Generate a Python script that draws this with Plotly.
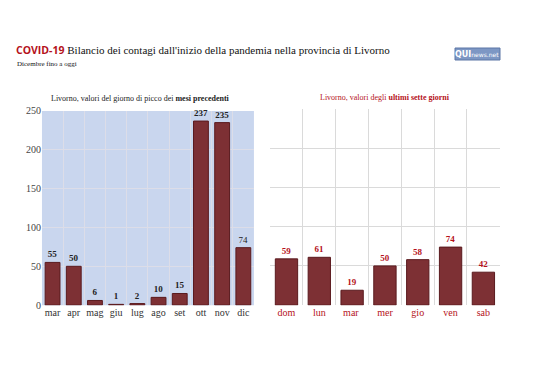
import plotly.graph_objects as go

months = ["mar", "apr", "mag", "giu", "lug", "ago", "set", "ott", "nov", "dic"]
month_values = [55, 50, 6, 1, 2, 10, 15, 237, 235, 74]
days = ["dom", "lun", "mar ", "mer", "gio", "ven", "sab"]
day_values = [59, 61, 19, 50, 58, 74, 42]
y_ticks = [0, 50, 100, 150, 200, 250]

BAR = "#7d3034"
EDGE = "#5a1a1e"
RED = "#b5121b"
SERIF = "Liberation Serif, Times New Roman, serif"

fig = go.Figure()
fig.add_trace(go.Bar(
    x=months, y=month_values, xaxis="x", yaxis="y",
    marker=dict(color=BAR, line=dict(color=EDGE, width=1)),
    width=0.7,
    text=[f"<b>{v}</b>" if i < 9 else f"{v}" for i, v in enumerate(month_values)],
    textposition="outside", cliponaxis=False,
    textfont=dict(family=SERIF, size=9, color="#222"),
    outsidetextfont=dict(family=SERIF, size=9, color="#222"),
))
fig.add_trace(go.Bar(
    x=days, y=day_values, xaxis="x2", yaxis="y2",
    marker=dict(color=BAR, line=dict(color=EDGE, width=1)),
    width=0.68,
    text=[f"<b>{v}</b>" for v in day_values],
    textposition="outside", cliponaxis=False,
    textfont=dict(family=SERIF, size=9, color=RED),
    outsidetextfont=dict(family=SERIF, size=9, color=RED),
))

fig.update_layout(
    template="none",
    width=538, height=380,
    margin=dict(l=0, r=0, t=0, b=0),
    paper_bgcolor="white",
    plot_bgcolor="white",
    showlegend=False,
    xaxis=dict(domain=[0.078, 0.472], anchor="y", tickson="boundaries", automargin=False,
               showgrid=True, gridcolor="#dcdde8", gridwidth=1, ticks="", tickangle=0,
               tickfont=dict(family=SERIF, size=10, color="#333"),
               showline=False, zeroline=False),
    yaxis=dict(domain=[0.197, 0.708], anchor="x", range=[0, 250], tickvals=y_ticks,
               automargin=False,
               showgrid=True, gridcolor="#dcdde8", gridwidth=1, ticks="",
               tickfont=dict(family=SERIF, size=10, color="#444"),
               zeroline=False, showline=False),
    xaxis2=dict(domain=[0.502, 0.929], anchor="y2", tickson="boundaries", automargin=False,
                showgrid=True, gridcolor="#dadada", gridwidth=1, ticks="", tickangle=0,
                tickfont=dict(family=SERIF, size=10, color=RED),
                showline=False, zeroline=False),
    yaxis2=dict(domain=[0.197, 0.713], anchor="x2", range=[0, 250], tickvals=y_ticks,
                automargin=False,
                showgrid=True, gridcolor="#dadada", gridwidth=1, showticklabels=False,
                zeroline=False, showline=False),
    shapes=[
        dict(type="rect", xref="x domain", yref="y domain", x0=0, x1=1, y0=0, y1=1,
             fillcolor="#c9d6ee", line=dict(width=0), layer="below"),
        dict(type="rect", xref="paper", yref="paper",
             x0=455/538, x1=500/538, y0=1-60/380, y1=1-48/380,
             fillcolor="#7d97c4", line=dict(color="#5c76a6", width=1)),
    ],
    annotations=[
        dict(text="<b>COVID-19</b> <span style='font-family:Liberation Serif, serif;color:#111;font-size:11px'>Bilancio dei contagi dall'inizio della pandemia nella provincia di Livorno</span>",
             xref="paper", yref="paper", x=14/538, y=1-50/380, xanchor="left", yanchor="middle",
             showarrow=False, font=dict(family="Open Sans, sans-serif", size=10.5, color=RED)),
        dict(text="Dicembre fino a oggi", xref="paper", yref="paper", x=15/538, y=1-64/380,
             xanchor="left", yanchor="middle", showarrow=False,
             font=dict(family=SERIF, size=7, color="#111")),
        dict(text="<b>QUI</b><span style='font-size:6px'>news.net</span>", xref="paper", yref="paper",
             x=477/538, y=1-54/380, xanchor="center", yanchor="middle", showarrow=False,
             font=dict(family="DejaVu Sans, sans-serif", size=8, color="white")),
        dict(text="Livorno, valori del giorno di picco dei <b>mesi precedenti</b>",
             xref="paper", yref="paper", x=140/538, y=1-98/380, xanchor="center", yanchor="middle",
             showarrow=False, font=dict(family=SERIF, size=8, color="#222")),
        dict(text="Livorno, valori degli <b>ultimi sette giorni</b>",
             xref="paper", yref="paper", x=385/538, y=1-97/380, xanchor="center", yanchor="middle",
             showarrow=False, font=dict(family=SERIF, size=8, color=RED)),
    ],
)

fig.write_html("out.html", config={"displayModeBar": False},
               post_script="document.body.style.margin='0';")
